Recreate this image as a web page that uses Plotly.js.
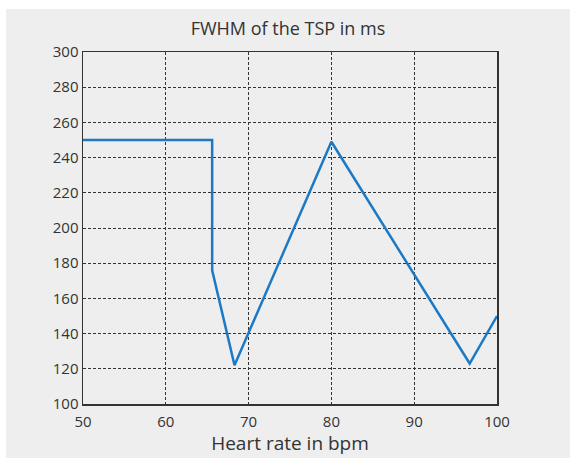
<!DOCTYPE html>
<html>
<head>
<meta charset="utf-8">
<script src="https://cdn.plot.ly/plotly-3.0.1.min.js"></script>
<style>
html,body{margin:0;padding:0;background:#ffffff;width:570px;height:458px;overflow:hidden;}
#chart{position:absolute;left:6px;top:9px;width:564px;height:449px;}
</style>
</head>
<body>
<div id="chart"></div>
<script>
const heartRate = [50, 65.6, 65.6, 68.3, 80.0, 96.7, 100];
const fwhm = [250, 250, 176, 122, 249, 123, 150];
const xTicks = [50, 60, 70, 80, 90, 100];
const yTicks = [100, 120, 140, 160, 180, 200, 220, 240, 260, 280, 300];
const bg = '#eeeeee';
const frame = '#333333';
const font = 'Open Sans, Noto Sans, sans-serif';

const trace = {
  x: heartRate, y: fwhm, type: 'scatter', mode: 'lines',
  line: {color: '#1b79c6', width: 2.5}, hoverinfo: 'skip'
};
const axisCommon = {
  showline: true, linecolor: frame, linewidth: 1.5, mirror: true,
  showgrid: true, gridcolor: frame, gridwidth: 1, griddash: '3px,2px',
  zeroline: false, ticks: '', tickfont: {family: font, size: 15, color: '#333'}
};
const layout = {
  width: 564, height: 449,
  paper_bgcolor: bg, plot_bgcolor: bg,
  margin: {l: 77, r: 73, t: 43, b: 54},
  showlegend: false,
  title: {text: 'FWHM of the TSP in ms', font: {family: font, size: 18, color: '#333'},
          x: 0.5, xanchor: 'center', y: 1, yref: 'paper', yanchor: 'bottom', pad: {b: 17}},
  xaxis: Object.assign({}, axisCommon, {
    range: [50, 100], tickvals: xTicks, ticktext: xTicks.map(String), ticklabelstandoff: 3,
    title: {text: 'Heart rate in bpm', font: {family: font, size: 19, color: '#333'}, standoff: 3}
  }),
  yaxis: Object.assign({}, axisCommon, {
    range: [100, 300], tickvals: yTicks, ticktext: yTicks.map(String)
  })
};
Plotly.newPlot('chart', [trace], layout, {displayModeBar: false, staticPlot: true});
</script>
</body>
</html>
